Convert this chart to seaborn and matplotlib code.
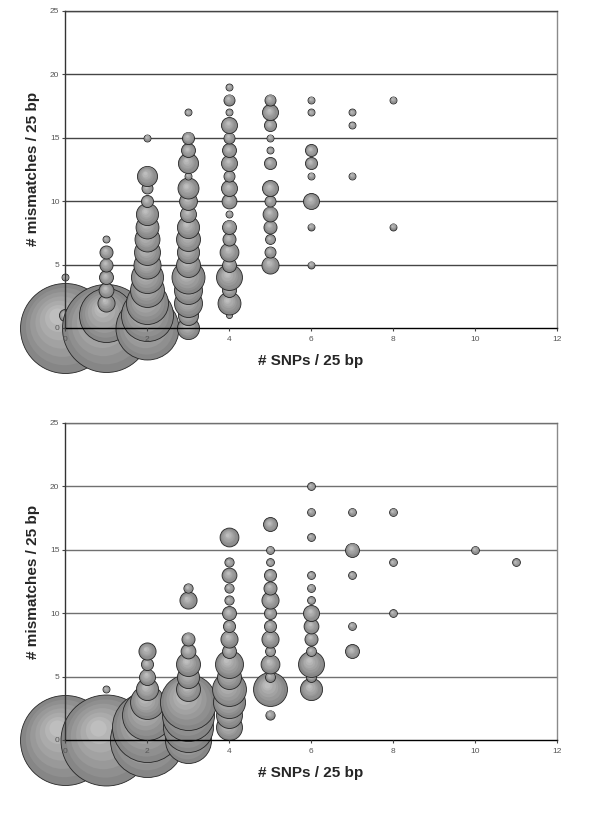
import numpy as np
import matplotlib
matplotlib.use("Agg")
import matplotlib.pyplot as plt
import matplotlib.transforms as mtransforms
import seaborn as sns

# ---- data: (#SNPs, #mismatches, count) for each bubble ----
top_snps = ([0] * 3 + [1] * 8 + [2] * 14 + [3] * 17 + [4] * 19 + [5] * 13
            + [6] * 8 + [7] * 3 + [8] * 2)
top_mism = ([0, 1, 4]
            + [0, 1, 2, 3, 4, 5, 6, 7]
            + [0, 1, 2, 3, 4, 5, 6, 7, 8, 9, 10, 11, 12, 15]
            + [0, 1, 2, 3, 4, 5, 6, 7, 8, 9, 10, 11, 12, 13, 14, 15, 17]
            + [1, 2, 3, 4, 5, 6, 7, 8, 9, 10, 11, 12, 13, 14, 15, 16, 17, 18, 19]
            + [5, 6, 7, 8, 9, 10, 11, 13, 14, 15, 16, 17, 18]
            + [5, 8, 10, 12, 13, 14, 17, 18]
            + [12, 16, 17]
            + [8, 18])
top_count = ([661, 12, 4]
             + [632, 238, 24, 18, 16, 14, 14, 4]
             + [324, 221, 144, 94, 84, 60, 55, 51, 43, 40, 12, 10, 33, 4]
             + [40, 33, 64, 64, 89, 47, 40, 47, 40, 21, 26, 36, 4, 33, 16, 12, 4]
             + [3, 43, 16, 55, 16, 29, 14, 16, 4, 18, 21, 10, 21, 16, 10, 21, 4, 10, 4]
             + [24, 10, 8, 14, 18, 10, 21, 12, 4, 4, 12, 21, 10]
             + [4, 4, 21, 4, 12, 12, 4, 4]
             + [4, 4, 4]
             + [4, 4])

bot_snps = ([0] + [1] * 2 + [2] * 8 + [3] * 11 + [4] * 15 + [5] * 14
            + [6] * 13 + [7] * 5 + [8] * 3 + [10] + [11])
bot_mism = ([0]
            + [0, 4]
            + [0, 1, 2, 3, 4, 5, 6, 7]
            + [0, 1, 2, 3, 4, 5, 6, 7, 8, 11, 12]
            + [1, 2, 3, 4, 5, 6, 7, 8, 9, 10, 11, 12, 13, 14, 16]
            + [2, 4, 5, 6, 7, 8, 9, 10, 11, 12, 13, 14, 15, 17]
            + [4, 5, 6, 7, 8, 9, 10, 11, 12, 13, 16, 18, 20]
            + [7, 9, 13, 15, 18]
            + [10, 14, 18]
            + [15]
            + [14])
bot_count = ([661]
             + [676, 4]
             + [447, 400, 204, 94, 40, 21, 12, 24]
             + [173, 204, 221, 256, 47, 40, 47, 18, 14, 24, 7]
             + [55, 55, 84, 94, 47, 64, 16, 24, 12, 16, 7, 7, 18, 7, 29]
             + [7, 94, 8, 29, 8, 24, 12, 12, 24, 14, 12, 5, 5, 16]
             + [40, 8, 55, 8, 14, 18, 21, 5, 5, 5, 5, 5, 5]
             + [16, 5, 5, 16, 5]
             + [5, 5, 5]
             + [5]
             + [5])

x_ticks = [0, 2, 4, 6, 8, 10, 12]
y_ticks = [0, 5, 10, 15, 20, 25]
x_label = "# SNPs / 25 bp"
y_label = "# mismatches / 25 bp"

sns.set_style("white")
plt.rcParams["font.family"] = ["Liberation Sans", "DejaVu Sans"]

fig = plt.figure(figsize=(6, 8.13), dpi=100)
ax_top = fig.add_axes([0.1083, 0.5966, 0.82, 0.390])
ax_bot = fig.add_axes([0.1083, 0.0898, 0.82, 0.390])

PT2_PER_COUNT = 6.35          # marker area (pt^2) for one count
base_col = np.array([0x86, 0x86, 0x86]) / 255
hi_col = np.array([0xbe, 0xbe, 0xbe]) / 255
fracs = [0.86, 0.72, 0.58, 0.44, 0.30, 0.18]


def draw_bubbles(ax, xs, ys, counts):
    cmax = max(counts)
    for i, (x, y, c) in enumerate(zip(xs, ys, counts)):
        z = 1 + i * 0.002
        # base bubble through seaborn's size mapping
        sns.scatterplot(x=[x], y=[y], size=[c], sizes=(0, PT2_PER_COUNT * cmax),
                        size_norm=(0, cmax), color=base_col, edgecolor="#262626",
                        linewidth=0.6, legend=False, clip_on=False, zorder=z, ax=ax)
        r = np.sqrt(PT2_PER_COUNT * c) / 2
        # soft highlight to mimic the 3D look
        for k, f in enumerate(fracs):
            t = (k + 1) / len(fracs)
            col = base_col + (hi_col - base_col) * t
            tr = mtransforms.offset_copy(ax.transData, fig=fig,
                                         x=-0.22 * (1 - f) * r,
                                         y=0.32 * (1 - f) * r, units="points")
            ax.scatter([x], [y], s=PT2_PER_COUNT * c * f ** 2, color=col,
                       linewidths=0, transform=tr, clip_on=False,
                       zorder=z + (k + 1) * 0.0002)


def style_axes(ax, grid_col):
    ax.set_xlim(0, 12)
    ax.set_ylim(0, 25)
    ax.set_axisbelow(False)
    ax.set_xticks(x_ticks)
    ax.set_yticks(y_ticks)
    ax.grid(False)
    for yv in y_ticks[1:]:
        ax.axhline(yv, color=grid_col, linewidth=1.0, zorder=0.5)
    ax.tick_params(axis="both", labelsize=6, labelcolor="#555555", color="#444444",
                   length=2.5, width=0.8, direction="out")
    ax.tick_params(axis="x", pad=3)
    ax.tick_params(axis="y", pad=1.5)
    ax.tick_params(left=True, bottom=True)
    ax.xaxis.set_zorder(3)
    ax.yaxis.set_zorder(3)
    for side in ["left", "bottom", "right", "top"]:
        ax.spines[side].set_visible(True)
        ax.spines[side].set_zorder(3)
        ax.spines[side].set_linewidth(1.0)
    ax.spines["left"].set_color("#333333")
    ax.spines["bottom"].set_color("#000000")
    ax.spines["right"].set_color("#8a8a8a")
    ax.spines["top"].set_color(grid_col)
    ax.spines["right"].set_zorder(0.5)
    ax.spines["top"].set_zorder(0.5)
    ax.set_xlabel(x_label, fontsize=11, fontweight="bold", labelpad=8)
    ax.set_ylabel(y_label, fontsize=11, fontweight="bold", labelpad=7)


draw_bubbles(ax_top, top_snps, top_mism, top_count)
style_axes(ax_top, "#454545")
draw_bubbles(ax_bot, bot_snps, bot_mism, bot_count)
style_axes(ax_bot, "#707070")

fig.savefig("out.png", dpi=100)
